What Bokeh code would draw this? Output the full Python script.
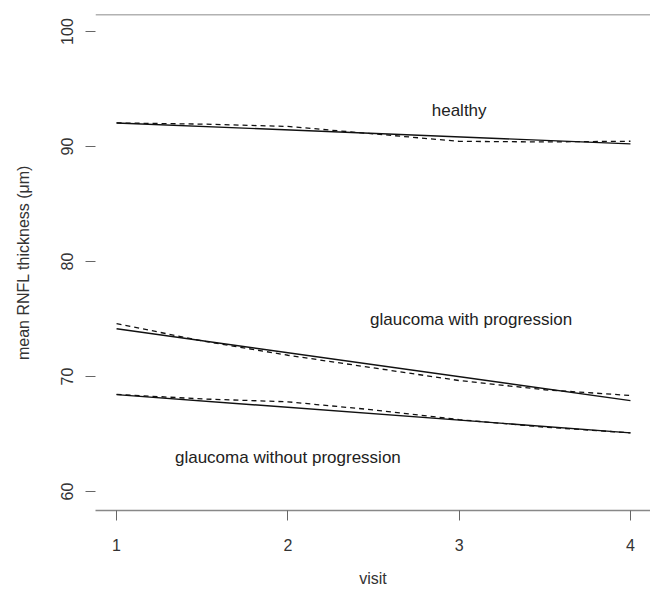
from bokeh.plotting import figure
from bokeh.models import Range1d, FixedTicker, Span, ColumnDataSource
from bokeh.core.properties import value
from bokeh.embed import file_html
from bokeh.resources import INLINE

# fitted (solid) lines: value at visit 1 and visit 4
fit_visits = [1, 4]
healthy_fit = [92.05, 90.23]
prog_fit = [74.15, 67.9]
noprog_fit = [68.43, 65.1]

# observed smooth (dashed) curves
obs_visits = [1, 1.5, 2, 2.5, 3, 3.5, 4]
healthy_obs = [92.05, 91.95, 91.75, 91.1, 90.45, 90.4, 90.46]
prog_obs = [74.6, 73.1, 71.85, 70.75, 69.65, 68.85, 68.35]
noprog_obs = [68.45, 68.05, 67.8, 67.1, 66.25, 65.6, 65.1]

group_labels = ["healthy", "glaucoma with progression", "glaucoma without progression"]
label_x = [3.0, 3.07, 2.0]
label_y = [93.1, 75.0, 63.0]

x_ticks = [1, 2, 3, 4]
y_ticks = [60, 70, 80, 90, 100]

FONT = "Liberation Sans"

p = figure(width=650, height=590, output_backend="svg", toolbar_location=None,
           x_range=Range1d(0.877, 4.117), y_range=Range1d(58.35, 101.48),
           min_border_left=95, min_border_right=0, min_border_top=14, min_border_bottom=80)
p.outline_line_color = None
p.grid.visible = False
p.background_fill_color = "white"

ink = "#111111"
for fit in (healthy_fit, prog_fit, noprog_fit):
    p.line(fit_visits, fit, line_color=ink, line_width=1.4)
for obs in (healthy_obs, prog_obs, noprog_obs):
    p.line(obs_visits, obs, line_color=ink, line_width=1.3, line_dash="5 4")

src = ColumnDataSource(dict(x=label_x, y=label_y, t=group_labels))
p.text(x="x", y="y", text="t", source=src, text_align="center", text_baseline="middle",
       text_font=value(FONT), text_font_size="17px", text_color="#222222")

top = Span(location=101.48, dimension="width", line_color="#666666", line_width=1.5)
p.add_layout(top)

# x axis
xa = p.xaxis[0]
xa.ticker = FixedTicker(ticks=x_ticks)
xa.axis_label = "visit"
xa.axis_line_color = "#888888"
xa.axis_line_width = 1.5
xa.major_tick_line_color = "#666666"
xa.major_tick_out = 10
xa.major_tick_in = 0
xa.minor_tick_line_color = None
xa.major_label_standoff = 18
xa.axis_label_standoff = 16
xa.major_label_text_font = FONT
xa.major_label_text_font_size = "16px"
xa.major_label_text_color = "#333333"
xa.axis_label_text_font = FONT
xa.axis_label_text_font_size = "16px"
xa.axis_label_text_font_style = "normal"
xa.axis_label_text_color = "#333333"

# y axis
ya = p.yaxis[0]
ya.ticker = FixedTicker(ticks=y_ticks)
ya.axis_label = "mean RNFL thickness (μm)"
ya.axis_line_color = None
ya.major_tick_line_color = "#666666"
ya.major_tick_out = 10
ya.major_tick_in = 0
ya.minor_tick_line_color = None
ya.major_label_orientation = "vertical"
ya.major_label_standoff = 12
ya.axis_label_standoff = 27
ya.major_label_text_font = FONT
ya.major_label_text_font_size = "16px"
ya.major_label_text_color = "#333333"
ya.axis_label_text_font = FONT
ya.axis_label_text_font_size = "16px"
ya.axis_label_text_font_style = "normal"
ya.axis_label_text_color = "#333333"

open("out.html", "w").write(file_html(p, INLINE))
